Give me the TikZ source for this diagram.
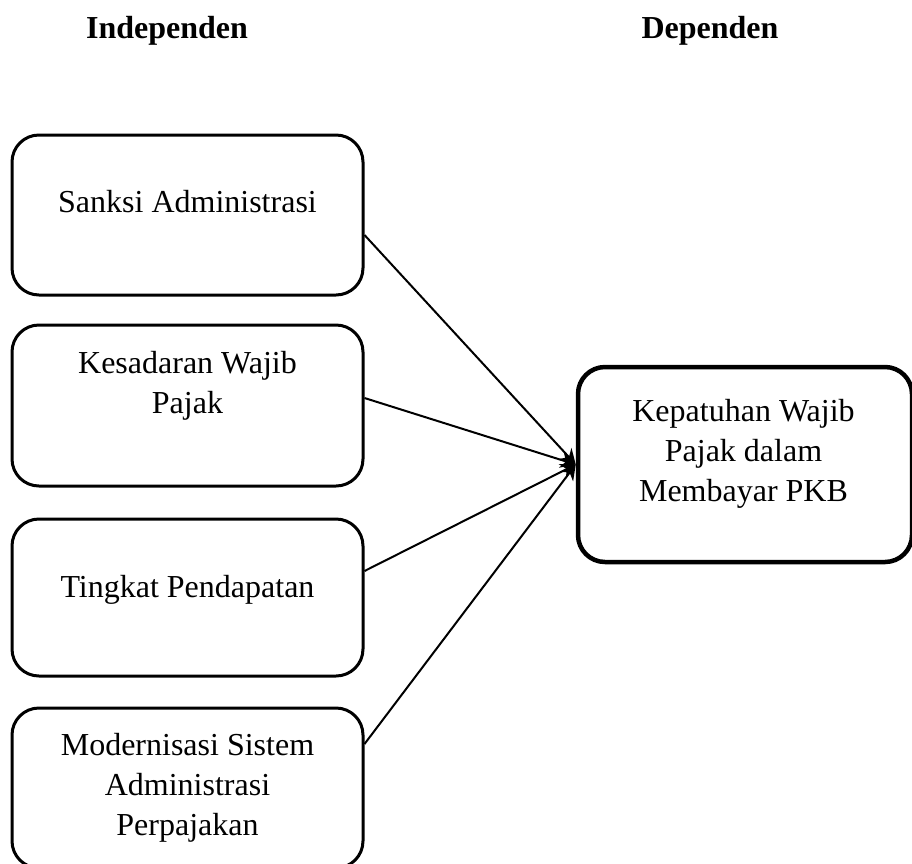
\documentclass[tikz,border=0pt]{standalone}
\usepackage{fontspec}
\setmainfont{Liberation Serif}
\usetikzlibrary{arrows.meta}
\begin{document}
\begin{tikzpicture}[x=1pt,y=-1pt,
  box/.style={draw=black,line width=3pt,rounded corners=27pt,rectangle,inner sep=0pt},
  tbox/.style={draw=black,line width=4.5pt,rounded corners=27pt,rectangle,inner sep=0pt},
  txt/.style={font=\fontsize{32}{40}\selectfont,align=center,inner sep=0pt,anchor=north},
  head/.style={font=\fontsize{32}{40}\selectfont\bfseries,inner sep=0pt,anchor=base},
  conn/.style={line width=2pt,-{Stealth[length=15pt,width=16pt]}}]
\useasboundingbox (0,0) rectangle (912,863);
\clip (0,0) rectangle (912,863);
\node[head] (h1) at (167,38) {Independen};
\node[head] (h2) at (710,38) {Dependen};
\node[box,minimum width=351pt,minimum height=160pt] (b1) at (187.5,215) {};
\node[box,minimum width=351pt,minimum height=161pt] (b2) at (187.5,405.5) {};
\node[box,minimum width=351pt,minimum height=157pt] (b3) at (187.5,597.5) {};
\node[box,minimum width=351pt,minimum height=160pt] (b4) at (187.5,788) {};
\node[tbox,minimum width=334pt,minimum height=195pt] (t) at (745,464.5) {};
\node[txt] (l1) at (187.5,190) {Sanksi Administrasi};
\node[txt] (l2) at (187.5,351) {Kesadaran Wajib\\Pajak};
\node[txt] (l3) at (187.5,575) {Tingkat Pendapatan};
\node[txt] (l4) at (187.5,733) {Modernisasi Sistem\\Administrasi\\Perpajakan};
\node[txt] (lt) at (743.5,399) {Kepatuhan Wajib\\Pajak dalam\\Membayar PKB};
\draw[conn] ([yshift=-20pt]b1.east) -- (t.west);
\draw[conn] ([yshift=7.5pt]b2.east) -- (t.west);
\draw[conn] ([yshift=26.5pt]b3.east) -- (t.west);
\draw[conn] ([yshift=44pt]b4.east) -- (t.west);
\end{tikzpicture}
\end{document}
